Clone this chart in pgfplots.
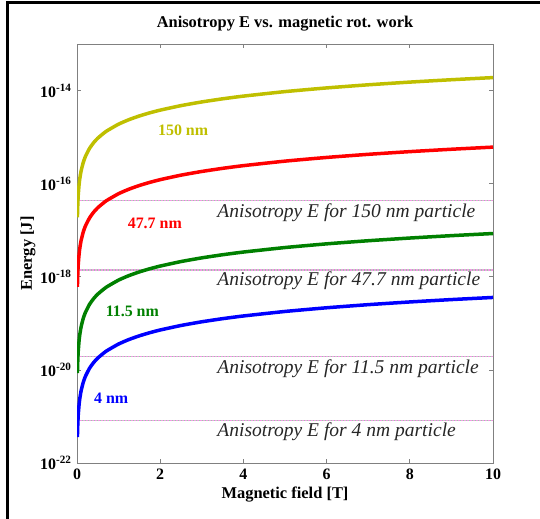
\documentclass[border=0pt]{standalone}
\usepackage{fontspec}
\setmainfont{Liberation Serif}
\usepackage{pgfplots}
\usepackage{pgfplotstable}
\pgfplotsset{compat=1.18}
\definecolor{myyel}{rgb}{0.75,0.75,0}
\definecolor{mygreen}{rgb}{0,0.5,0}
\definecolor{axgray}{rgb}{0.5,0.5,0.5}
\definecolor{dotpink}{rgb}{0.95,0.6,0.9}
\definecolor{dotgreen}{rgb}{0.6,0.82,0.65}
\pgfplotstableread{
B      blue      green     red       yellow
0.01   3.6e-22   8.5e-21   6.1e-19   1.9e-17
0.02   7.2e-22   1.7e-20   1.22e-18  3.8e-17
0.03   1.08e-21  2.55e-20  1.83e-18  5.7e-17
0.05   1.8e-21   4.25e-20  3.05e-18  9.5e-17
0.07   2.52e-21  5.95e-20  4.27e-18  1.33e-16
0.1    3.6e-21   8.5e-20   6.1e-18   1.9e-16
0.15   5.4e-21   1.275e-19 9.15e-18  2.85e-16
0.2    7.2e-21   1.7e-19   1.22e-17  3.8e-16
0.3    1.08e-20  2.55e-19  1.83e-17  5.7e-16
0.4    1.44e-20  3.4e-19   2.44e-17  7.6e-16
0.5    1.8e-20   4.25e-19  3.05e-17  9.5e-16
0.7    2.52e-20  5.95e-19  4.27e-17  1.33e-15
1      3.6e-20   8.5e-19   6.1e-17   1.9e-15
1.25   4.5e-20   1.0625e-18 7.625e-17 2.375e-15
1.5    5.4e-20   1.275e-18 9.15e-17  2.85e-15
1.75   6.3e-20   1.4875e-18 1.0675e-16 3.325e-15
2      7.2e-20   1.7e-18   1.22e-16  3.8e-15
2.5    9e-20     2.125e-18 1.525e-16 4.75e-15
3      1.08e-19  2.55e-18  1.83e-16  5.7e-15
3.5    1.26e-19  2.975e-18 2.135e-16 6.65e-15
4      1.44e-19  3.4e-18   2.44e-16  7.6e-15
5      1.8e-19   4.25e-18  3.05e-16  9.5e-15
6      2.16e-19  5.1e-18   3.66e-16  1.14e-14
7      2.52e-19  5.95e-18  4.27e-16  1.33e-14
8      2.88e-19  6.8e-18   4.88e-16  1.52e-14
9      3.24e-19  7.65e-18  5.49e-16  1.71e-14
10     3.6e-19   8.5e-18   6.1e-16   1.9e-14
}\datatable
\begin{document}
\begin{tikzpicture}
\begin{axis}[
  at={(77bp,56bp)}, anchor=south west,
  scale only axis, width=416bp, height=419bp,
  ymode=log, xmin=0, xmax=10, ymin=1e-22, ymax=1e-13,
  xtick={0,2,4,6,8,10},
  ytick={1e-22,1e-20,1e-18,1e-16,1e-14},
  yticklabels={10\textsuperscript{-22},10\textsuperscript{-20},10\textsuperscript{-18},10\textsuperscript{-16},10\textsuperscript{-14}},
  minor ytick={}, minor xtick={},
  yminorticks=false,
  tick align=inside, tick pos=both,
  major tick length=4bp,
  axis line style={axgray, line width=1bp},
  every tick/.style={axgray, line width=0.8bp},
  /pgf/number format/assume math mode=true,
  tick label style={font=\fontsize{16}{19}\selectfont\bfseries},
  xticklabel style={yshift=-2bp},
  yticklabel style={xshift=-2bp},
  title={Anisotropy E vs. magnetic rot. work},
  title style={font=\fontsize{16.5}{19}\selectfont\bfseries, at={(axis description cs:0.5,1)}, anchor=south, inner sep=0pt, yshift=7bp},
  xlabel={Magnetic field [T]},
  xlabel style={font=\fontsize{16.5}{19}\selectfont\bfseries, at={(axis description cs:0.5,-0.0764)}, anchor=center, inner sep=0pt},
  ylabel={Energy [J]},
  ylabel style={font=\fontsize{16.5}{19}\selectfont\bfseries, at={(axis description cs:-0.1178,0.5)}, anchor=center, inner sep=0pt},
  clip=true,
]
% anisotropy energy lines
\addplot[dotpink, line width=1.3bp, dash pattern=on 1.5bp off 1.5bp] coordinates {(0,4.4e-17) (10,4.4e-17)};
\addplot[dotgreen, line width=1.3bp, dash pattern=on 1.5bp off 1.5bp, dash phase=1.5bp] coordinates {(0,4.4e-17) (10,4.4e-17)};
\addplot[dotpink, line width=1.3bp, dash pattern=on 1.5bp off 1.5bp] coordinates {(0,1.4e-18) (10,1.4e-18)};
\addplot[dotgreen, line width=1.3bp, dash pattern=on 1.5bp off 1.5bp, dash phase=1.5bp] coordinates {(0,1.4e-18) (10,1.4e-18)};
\addplot[dotpink, line width=1.3bp, dash pattern=on 1.5bp off 1.5bp] coordinates {(0,1.94e-20) (10,1.94e-20)};
\addplot[dotgreen, line width=1.3bp, dash pattern=on 1.5bp off 1.5bp, dash phase=1.5bp] coordinates {(0,1.94e-20) (10,1.94e-20)};
\addplot[dotpink, line width=1.3bp, dash pattern=on 1.5bp off 1.5bp] coordinates {(0,8.3e-22) (10,8.3e-22)};
\addplot[dotgreen, line width=1.3bp, dash pattern=on 1.5bp off 1.5bp, dash phase=1.5bp] coordinates {(0,8.3e-22) (10,8.3e-22)};
% work curves
\addplot[myyel, line width=3.5bp, line join=round, smooth, tension=0.3] table[x=B, y=yellow] {\datatable};
\addplot[red, line width=3.5bp, line join=round, smooth, tension=0.3] table[x=B, y=red] {\datatable};
\addplot[mygreen, line width=3.5bp, line join=round, smooth, tension=0.3] table[x=B, y=green] {\datatable};
\addplot[blue, line width=3.5bp, line join=round, smooth, tension=0.3] table[x=B, y=blue] {\datatable};
% labels
\node[myyel, font=\fontsize{16}{19}\selectfont\bfseries] at (axis cs:2.55,1.38e-15) {150 nm};
\node[red, font=\fontsize{16}{19}\selectfont\bfseries] at (axis cs:1.87,1.4e-17) {47.7 nm};
\node[mygreen, font=\fontsize{16}{19}\selectfont\bfseries] at (axis cs:1.33,1.8e-19) {11.5 nm};
\node[blue, font=\fontsize{16}{19}\selectfont\bfseries] at (axis cs:0.82,2.45e-21) {4 nm};
\node[anchor=west, inner sep=0pt, text=black!85, font=\fontsize{19.6}{22}\selectfont\itshape] at (axis cs:3.37,2.4e-17) {Anisotropy E for 150 nm particle};
\node[anchor=west, inner sep=0pt, text=black!85, font=\fontsize{19.6}{22}\selectfont\itshape] at (axis cs:3.37,8.3e-19) {Anisotropy E for 47.7 nm particle};
\node[anchor=west, inner sep=0pt, text=black!85, font=\fontsize{19.6}{22}\selectfont\itshape] at (axis cs:3.37,1.07e-20) {Anisotropy E for 11.5 nm particle};
\node[anchor=west, inner sep=0pt, text=black!85, font=\fontsize{19.6}{22}\selectfont\itshape] at (axis cs:3.37,4.6e-22) {Anisotropy E for 4 nm particle};
\end{axis}
\draw[black, line width=3bp] (7bp,0bp) -- (7bp,516bp) -- (540bp,516bp);
\pgfresetboundingbox
\path[use as bounding box] (0,0) rectangle (540bp,519bp);
\end{tikzpicture}
\end{document}
